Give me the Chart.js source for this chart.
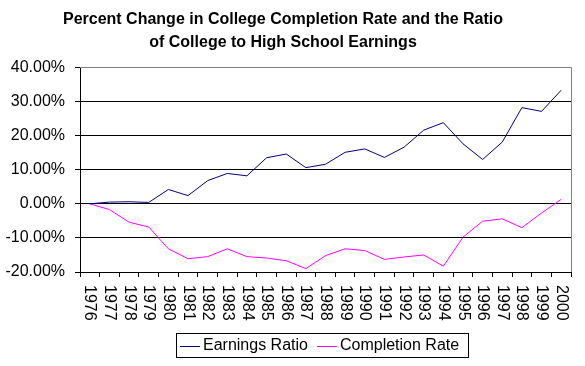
<!DOCTYPE html>
<html>
<head>
<meta charset="utf-8">
<script src="https://cdn.jsdelivr.net/npm/chart.js@4/dist/chart.umd.min.js"></script>
<style>
  html, body { margin: 0; padding: 0; background: #ffffff; }
  #wrap { width: 585px; height: 366px; position: relative; }
</style>
</head>
<body>
<div id="wrap"><canvas id="c" width="585" height="366"></canvas></div>
<script>
const years = ["1976","1977","1978","1979","1980","1981","1982","1983","1984","1985","1986","1987","1988","1989","1990","1991","1992","1993","1994","1995","1996","1997","1998","1999","2000"];
const earningsRatio = [0.0, 0.5, 0.6, 0.4, 4.2, 2.4, 6.8, 8.9, 8.2, 13.5, 14.6, 10.6, 11.6, 15.1, 16.1, 13.6, 16.6, 21.6, 23.8, 17.6, 13.0, 18.1, 28.2, 27.1, 33.3];
const completionRate = [0.0, -1.7, -5.4, -6.8, -13.2, -16.1, -15.5, -13.2, -15.5, -15.9, -16.7, -19.0, -15.2, -13.2, -13.7, -16.3, -15.6, -15.0, -18.3, -9.8, -5.1, -4.4, -7.0, -2.7, 1.3];
const yTicks = [-20, -10, 0, 10, 20, 30, 40];
const titleLines = ["Percent Change in College Completion Rate and the Ratio", "of College to High School Earnings"];
const seriesNames = ["Earnings Ratio", "Completion Rate"];
const seriesColors = ["#000080", "#FF00FF"];

const FONT = "'Liberation Sans', Arial, sans-serif";

const customPlugin = {
  id: 'custom',
  afterLayout(chart) {
    const tb = chart.titleBlock;
    if (tb) { tb.left -= 5; tb.right -= 5; }
  },
  afterDraw(chart) {
    const ctx = chart.ctx;
    const ca = chart.chartArea;
    const xs = chart.scales.x;
    // gray plot border top and right
    ctx.save();
    ctx.strokeStyle = '#808080';
    ctx.lineWidth = 1;
    ctx.beginPath();
    ctx.moveTo(ca.left, Math.round(ca.top) + 0.5);
    ctx.lineTo(Math.round(ca.right) + 0.5, Math.round(ca.top) + 0.5);
    ctx.lineTo(Math.round(ca.right) + 0.5, ca.bottom);
    ctx.stroke();
    ctx.restore();
    // rotated x labels (reading top to bottom)
    ctx.save();
    ctx.fillStyle = '#000000';
    ctx.font = '16px ' + FONT;
    ctx.textAlign = 'left';
    ctx.textBaseline = 'middle';
    const ticks = xs.ticks;
    for (let i = 0; i < ticks.length; i++) {
      const x = xs.getPixelForTick(i);
      ctx.save();
      ctx.translate(x, xs.top + 13);
      ctx.rotate(Math.PI / 2);
      ctx.fillText(chart.data.labels[i], 0, 0);
      ctx.restore();
    }
    ctx.restore();
    // legend with border, centred under the plot area
    ctx.save();
    ctx.font = '16px ' + FONT;
    ctx.textBaseline = 'middle';
    ctx.textAlign = 'left';
    const sample = 20, gapText = 3, gapItem = 9, padL = 4, padR = 9;
    const widths = seriesNames.map(n => ctx.measureText(n).width);
    let total = padL + padR;
    widths.forEach((w, i) => { total += sample + gapText + w + (i < widths.length - 1 ? gapItem : 0); });
    const cx = (ca.left + ca.right) / 2 - 3;
    const boxL = Math.round(cx - total / 2);
    const boxT = 333, boxH = 24;
    ctx.strokeStyle = '#000000';
    ctx.lineWidth = 1;
    ctx.strokeRect(boxL + 0.5, boxT + 0.5, Math.round(total), boxH);
    let x = boxL + padL;
    const yMid = boxT + boxH / 2 + 1;
    seriesNames.forEach((n, i) => {
      ctx.strokeStyle = seriesColors[i];
      ctx.beginPath();
      ctx.moveTo(x, Math.round(yMid) + 0.5);
      ctx.lineTo(x + sample, Math.round(yMid) + 0.5);
      ctx.stroke();
      x += sample + gapText;
      ctx.fillStyle = '#000000';
      ctx.fillText(n, x, yMid);
      x += widths[i] + gapItem;
    });
    ctx.restore();
  }
};

new Chart(document.getElementById('c'), {
  type: 'line',
  data: {
    labels: years,
    datasets: [
      { label: seriesNames[0], data: earningsRatio, borderColor: seriesColors[0], backgroundColor: seriesColors[0], borderWidth: 1, pointRadius: 0, tension: 0, fill: false },
      { label: seriesNames[1], data: completionRate, borderColor: seriesColors[1], backgroundColor: seriesColors[1], borderWidth: 1, pointRadius: 0, tension: 0, fill: false }
    ]
  },
  options: {
    responsive: false,
    animation: false,
    devicePixelRatio: 1,
    layout: { padding: { left: 5, right: 14, top: 6, bottom: 45 } },
    plugins: {
      title: {
        display: true,
        text: titleLines,
        color: '#000000',
        font: { family: FONT, size: 16, weight: 'bold', lineHeight: 1.45 },
        padding: { top: 2, bottom: 13 }
      },
      legend: { display: false },
      tooltip: { enabled: false }
    },
    scales: {
      x: {
        type: 'category',
        offset: true,
        grid: { display: true, offset: true, drawOnChartArea: false, color: '#000000', tickLength: 5 },
        border: { display: true, color: '#000000' },
        ticks: { display: false, autoSkip: false },
        afterFit(scale) { scale.height = 49; scale.paddingLeft = 0; scale.paddingRight = 0; }
      },
      y: {
        min: -20,
        max: 40,
        afterBuildTicks(scale) { scale.ticks = yTicks.map(v => ({ value: v })); },
        afterFit(scale) { scale.width = 75; },
        grid: {
          color: (c) => (c.tick && c.tick.value === 40 ? '#808080' : '#000000'),
          tickColor: '#000000',
          tickLength: 5
        },
        border: { display: true, color: '#000000' },
        ticks: {
          color: '#000000',
          font: { family: FONT, size: 16 },
          padding: 10,
          callback: (v) => Number(v).toFixed(2) + '%'
        }
      }
    }
  },
  plugins: [customPlugin]
});
</script>
</body>
</html>
